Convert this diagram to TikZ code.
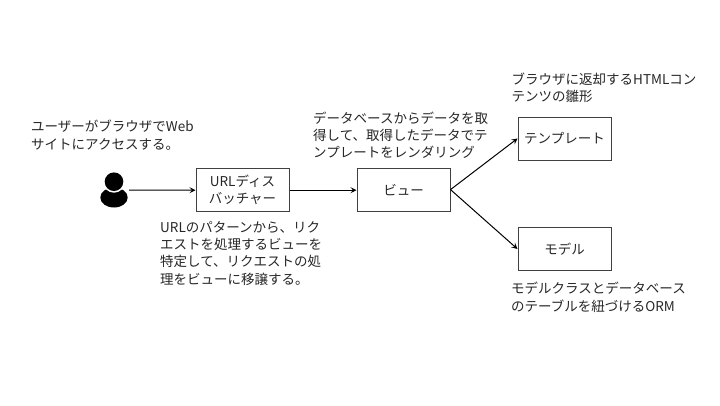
\documentclass[tikz,border=0pt]{standalone}
\usepackage{fontspec}
\setmainfont{Noto Sans CJK JP}
\usetikzlibrary{arrows.meta}
\tikzset{
  boxnode/.style={draw=black!75,line width=1pt,minimum width=93pt,minimum height=43pt,inner sep=0pt,align=center,font=\fontsize{13.5}{17.3}\selectfont,text=black!85},
  note/.style={anchor=north west,inner sep=0pt,align=left,font=\fontsize{13.5}{17.3}\selectfont,text=black!85},
  link/.style={draw=black,line width=1pt,-{Stealth[length=6pt,width=6pt,inset=2.5pt]}}
}
\begin{document}
\begin{tikzpicture}[x=1pt,y=-1pt]
\useasboundingbox (0,0) rectangle (720,405);
\fill[black] (114,197.5) ellipse (13.7 and 10);
\fill[white] (114,181.7) circle (11);
\fill[black] (114,181.7) circle (9.3);
\coordinate (person) at (129,190.2);
\node[boxnode] (url) at (242.5,189.6) {URLディス\\バッチャー};
\node[boxnode] (view) at (403.5,189.6) {ビュー};
\node[boxnode] (tmpl) at (564.5,138.5) {テンプレート};
\node[boxnode,minimum height=42.5pt] (model) at (564.5,249) {モデル};
\draw[link] (person) -- ([yshift=-.6pt]url.west);
\draw[link] ([yshift=-.6pt]url.east) -- ([yshift=-.6pt]view.west);
\draw[link] (view.east) -- (tmpl.west);
\draw[link] (view.east) -- (model.west);
\node[note] (n1) at (31,120) {ユーザーがブラウザでWeb\\サイトにアクセスする。};
\node[note] (n2) at (160,221) {URLのパターンから、リク\\エストを処理するビューを\\特定して、リクエストの処\\理をビューに移譲する。};
\node[note] (n3) at (313,111.5) {データベースからデータを取\\得して、取得したデータでテ\\ンプレートをレンダリング};
\node[note] (n4) at (511.5,72.5) {ブラウザに返却するHTMLコン\\テンツの雛形};
\node[note] (n5) at (511,282) {モデルクラスとデータベース\\のテーブルを紐づけるORM};
\end{tikzpicture}
\end{document}
